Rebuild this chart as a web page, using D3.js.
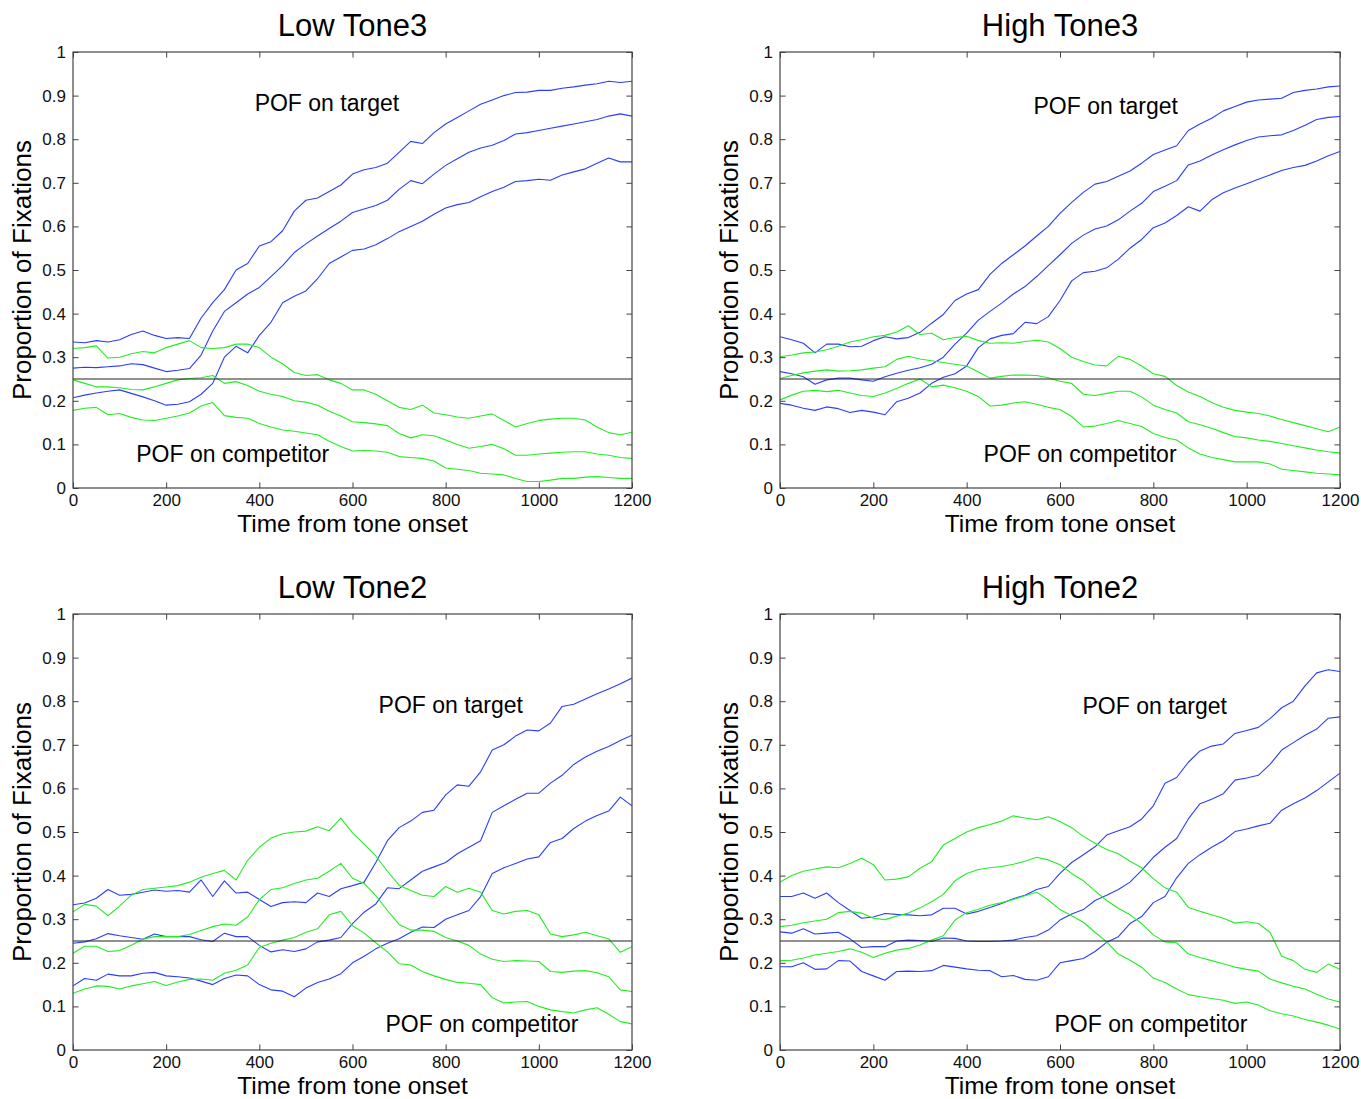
<!DOCTYPE html>
<html>
<head>
<meta charset="utf-8">
<script src="https://cdn.jsdelivr.net/npm/d3@7"></script>
<style>
  html, body { margin: 0; padding: 0; background: #fff; }
  svg { display: block; font-family: "Liberation Sans", Arial, Helvetica, sans-serif; }
</style>
</head>
<body>
<svg id="chart" width="1361" height="1099"></svg>
<script>
// ---- Data: proportion of fixations sampled every 25 ms from tone onset ----
const timeMs = d3.range(0, 1201, 25);
const xTicks = [0, 200, 400, 600, 800, 1000, 1200];
const yTicks = [0, 0.1, 0.2, 0.3, 0.4, 0.5, 0.6, 0.7, 0.8, 0.9, 1];
const panelTitles = ["Low Tone3", "High Tone3", "Low Tone2", "High Tone2"];
const chanceLevel = 0.25;

// Low Tone3
const lowTone3TargetUpper = [0.335,0.333,0.338,0.335,0.340,0.352,0.360,0.350,0.343,0.345,0.343,0.390,0.425,0.455,0.500,0.515,0.555,0.565,0.590,0.635,0.660,0.665,0.680,0.695,0.720,0.730,0.735,0.745,0.770,0.795,0.790,0.815,0.835,0.850,0.865,0.880,0.890,0.900,0.907,0.908,0.912,0.912,0.917,0.920,0.924,0.927,0.933,0.930,0.933];
const lowTone3TargetMean  = [0.275,0.277,0.276,0.278,0.280,0.285,0.283,0.275,0.267,0.270,0.274,0.305,0.360,0.405,0.425,0.445,0.460,0.485,0.510,0.540,0.560,0.578,0.595,0.612,0.632,0.640,0.648,0.660,0.685,0.705,0.698,0.720,0.740,0.755,0.770,0.780,0.786,0.797,0.812,0.815,0.820,0.825,0.830,0.835,0.840,0.845,0.853,0.858,0.853];
const lowTone3TargetLower = [0.207,0.213,0.218,0.222,0.225,0.217,0.209,0.200,0.190,0.192,0.198,0.215,0.240,0.300,0.325,0.310,0.350,0.380,0.425,0.440,0.452,0.480,0.515,0.530,0.545,0.548,0.558,0.572,0.588,0.600,0.612,0.628,0.642,0.650,0.655,0.668,0.680,0.690,0.703,0.705,0.708,0.706,0.718,0.725,0.732,0.745,0.757,0.748,0.748];
const lowTone3CompUpper   = [0.320,0.322,0.326,0.298,0.300,0.308,0.313,0.310,0.322,0.330,0.338,0.322,0.320,0.322,0.330,0.330,0.322,0.300,0.285,0.265,0.258,0.260,0.248,0.240,0.225,0.225,0.215,0.200,0.185,0.180,0.190,0.172,0.168,0.163,0.160,0.165,0.170,0.155,0.140,0.148,0.155,0.158,0.160,0.160,0.156,0.140,0.127,0.122,0.128];
const lowTone3CompMean    = [0.248,0.240,0.232,0.232,0.230,0.226,0.225,0.232,0.240,0.248,0.251,0.253,0.258,0.240,0.244,0.235,0.222,0.215,0.210,0.200,0.197,0.190,0.176,0.165,0.152,0.150,0.147,0.143,0.125,0.115,0.122,0.120,0.110,0.100,0.091,0.095,0.100,0.090,0.075,0.075,0.078,0.080,0.082,0.083,0.083,0.078,0.075,0.070,0.068];
const lowTone3CompLower   = [0.178,0.183,0.185,0.168,0.171,0.162,0.156,0.155,0.160,0.165,0.172,0.188,0.196,0.166,0.162,0.160,0.148,0.140,0.133,0.130,0.126,0.122,0.107,0.095,0.085,0.086,0.085,0.082,0.072,0.070,0.068,0.062,0.046,0.043,0.040,0.034,0.032,0.030,0.022,0.015,0.015,0.018,0.022,0.022,0.025,0.026,0.024,0.022,0.022];

// High Tone3
const highTone3TargetUpper = [0.347,0.340,0.332,0.310,0.330,0.330,0.324,0.325,0.338,0.347,0.342,0.345,0.357,0.378,0.398,0.430,0.445,0.455,0.490,0.515,0.535,0.555,0.578,0.600,0.630,0.655,0.678,0.697,0.703,0.715,0.727,0.745,0.765,0.775,0.785,0.820,0.835,0.848,0.865,0.875,0.885,0.890,0.892,0.894,0.907,0.912,0.915,0.920,0.922];
const highTone3TargetMean  = [0.267,0.262,0.255,0.238,0.248,0.252,0.252,0.248,0.245,0.255,0.263,0.270,0.276,0.284,0.300,0.330,0.355,0.385,0.405,0.424,0.445,0.462,0.485,0.510,0.535,0.561,0.580,0.594,0.601,0.615,0.635,0.653,0.680,0.692,0.705,0.741,0.750,0.764,0.776,0.787,0.797,0.805,0.808,0.810,0.820,0.832,0.845,0.850,0.852];
const highTone3TargetLower = [0.194,0.190,0.183,0.178,0.186,0.182,0.173,0.178,0.174,0.168,0.198,0.206,0.218,0.240,0.254,0.262,0.280,0.322,0.342,0.350,0.354,0.380,0.377,0.393,0.430,0.475,0.494,0.497,0.505,0.525,0.550,0.570,0.597,0.608,0.625,0.645,0.635,0.661,0.677,0.688,0.698,0.708,0.718,0.728,0.735,0.740,0.750,0.762,0.772];
const highTone3CompUpper   = [0.301,0.305,0.310,0.312,0.317,0.325,0.335,0.340,0.347,0.350,0.358,0.372,0.352,0.355,0.340,0.345,0.348,0.338,0.332,0.333,0.332,0.336,0.339,0.335,0.320,0.300,0.290,0.282,0.280,0.302,0.295,0.280,0.262,0.256,0.235,0.220,0.210,0.196,0.185,0.178,0.174,0.171,0.165,0.157,0.150,0.143,0.136,0.129,0.140];
const highTone3CompMean    = [0.251,0.258,0.264,0.268,0.271,0.268,0.269,0.271,0.275,0.278,0.295,0.302,0.296,0.292,0.288,0.284,0.280,0.266,0.252,0.256,0.259,0.259,0.258,0.253,0.245,0.240,0.215,0.212,0.217,0.222,0.222,0.209,0.190,0.180,0.172,0.152,0.145,0.137,0.127,0.118,0.115,0.110,0.107,0.102,0.097,0.092,0.087,0.083,0.080];
const highTone3CompLower   = [0.202,0.213,0.222,0.224,0.221,0.224,0.218,0.212,0.210,0.218,0.228,0.240,0.250,0.232,0.236,0.230,0.222,0.210,0.188,0.190,0.195,0.198,0.192,0.185,0.180,0.164,0.140,0.142,0.148,0.155,0.148,0.141,0.125,0.116,0.110,0.092,0.078,0.070,0.065,0.060,0.060,0.060,0.055,0.043,0.040,0.037,0.034,0.032,0.030];

// Low Tone2
const lowTone2TargetUpper = [0.333,0.337,0.348,0.368,0.355,0.357,0.362,0.367,0.364,0.366,0.362,0.390,0.352,0.388,0.360,0.362,0.345,0.329,0.338,0.340,0.338,0.360,0.352,0.370,0.377,0.385,0.430,0.480,0.510,0.525,0.545,0.550,0.585,0.608,0.605,0.638,0.688,0.700,0.720,0.734,0.732,0.750,0.788,0.793,0.805,0.817,0.828,0.840,0.853];
const lowTone2TargetMean  = [0.245,0.248,0.255,0.267,0.262,0.258,0.254,0.266,0.260,0.260,0.260,0.253,0.249,0.268,0.260,0.260,0.240,0.225,0.230,0.226,0.232,0.248,0.252,0.258,0.290,0.316,0.335,0.372,0.370,0.390,0.410,0.420,0.430,0.450,0.465,0.480,0.545,0.560,0.575,0.589,0.589,0.612,0.630,0.655,0.672,0.685,0.696,0.710,0.722];
const lowTone2TargetLower = [0.147,0.164,0.160,0.174,0.170,0.170,0.176,0.178,0.170,0.168,0.165,0.158,0.150,0.164,0.172,0.170,0.150,0.138,0.135,0.122,0.142,0.155,0.163,0.175,0.200,0.215,0.232,0.245,0.255,0.270,0.282,0.281,0.300,0.310,0.320,0.352,0.405,0.418,0.428,0.438,0.443,0.476,0.485,0.508,0.525,0.538,0.548,0.580,0.560];
const lowTone2CompUpper   = [0.317,0.334,0.330,0.308,0.330,0.355,0.368,0.371,0.374,0.377,0.385,0.396,0.405,0.412,0.390,0.435,0.465,0.486,0.496,0.500,0.502,0.512,0.503,0.532,0.498,0.472,0.445,0.410,0.378,0.366,0.355,0.352,0.375,0.362,0.371,0.362,0.320,0.312,0.318,0.320,0.310,0.266,0.260,0.264,0.270,0.262,0.255,0.224,0.237];
const lowTone2CompMean    = [0.222,0.238,0.238,0.226,0.228,0.240,0.254,0.260,0.260,0.260,0.265,0.274,0.283,0.289,0.286,0.305,0.345,0.368,0.372,0.382,0.390,0.394,0.410,0.428,0.394,0.382,0.354,0.320,0.288,0.275,0.275,0.272,0.258,0.250,0.240,0.220,0.208,0.203,0.205,0.204,0.203,0.180,0.178,0.181,0.182,0.177,0.168,0.138,0.134];
const lowTone2CompLower   = [0.130,0.140,0.147,0.146,0.140,0.147,0.152,0.157,0.148,0.156,0.162,0.163,0.160,0.176,0.183,0.195,0.235,0.245,0.252,0.258,0.270,0.278,0.310,0.318,0.285,0.268,0.246,0.225,0.198,0.195,0.180,0.170,0.162,0.155,0.153,0.150,0.120,0.108,0.110,0.111,0.100,0.092,0.088,0.085,0.092,0.097,0.082,0.065,0.060];

// High Tone2
const highTone2TargetUpper = [0.352,0.352,0.360,0.348,0.360,0.338,0.320,0.302,0.305,0.313,0.311,0.310,0.308,0.310,0.325,0.325,0.312,0.318,0.327,0.336,0.347,0.355,0.368,0.375,0.405,0.430,0.448,0.466,0.493,0.503,0.512,0.530,0.560,0.612,0.625,0.660,0.686,0.697,0.702,0.726,0.733,0.740,0.760,0.785,0.800,0.835,0.865,0.872,0.868];
const highTone2TargetMean  = [0.271,0.268,0.278,0.266,0.268,0.270,0.255,0.235,0.237,0.237,0.250,0.252,0.251,0.249,0.257,0.256,0.250,0.249,0.249,0.250,0.252,0.258,0.262,0.275,0.298,0.312,0.322,0.343,0.355,0.368,0.385,0.412,0.442,0.465,0.485,0.530,0.565,0.575,0.588,0.619,0.624,0.630,0.655,0.688,0.705,0.722,0.736,0.761,0.764];
const highTone2TargetLower = [0.191,0.191,0.200,0.185,0.186,0.205,0.204,0.180,0.170,0.160,0.180,0.181,0.180,0.182,0.194,0.190,0.186,0.183,0.182,0.168,0.171,0.162,0.160,0.168,0.200,0.205,0.210,0.226,0.247,0.260,0.290,0.306,0.338,0.352,0.395,0.428,0.448,0.465,0.480,0.501,0.507,0.514,0.520,0.550,0.565,0.578,0.595,0.615,0.635];
const highTone2CompUpper   = [0.385,0.400,0.410,0.415,0.420,0.418,0.428,0.440,0.425,0.390,0.392,0.397,0.417,0.432,0.470,0.485,0.500,0.510,0.517,0.525,0.537,0.532,0.528,0.535,0.524,0.510,0.490,0.474,0.460,0.450,0.433,0.418,0.393,0.372,0.362,0.327,0.318,0.310,0.302,0.291,0.294,0.290,0.270,0.215,0.205,0.185,0.178,0.197,0.185];
const highTone2CompMean    = [0.283,0.286,0.292,0.296,0.300,0.315,0.318,0.314,0.302,0.299,0.307,0.314,0.326,0.340,0.357,0.388,0.405,0.414,0.418,0.421,0.426,0.433,0.442,0.436,0.425,0.405,0.388,0.365,0.343,0.325,0.310,0.290,0.264,0.248,0.246,0.220,0.212,0.205,0.198,0.190,0.185,0.181,0.163,0.154,0.146,0.140,0.128,0.117,0.110];
const highTone2CompLower   = [0.205,0.206,0.211,0.218,0.222,0.226,0.232,0.224,0.212,0.222,0.229,0.233,0.241,0.252,0.262,0.298,0.315,0.323,0.332,0.338,0.345,0.354,0.362,0.344,0.322,0.308,0.293,0.270,0.248,0.220,0.206,0.190,0.165,0.155,0.140,0.127,0.122,0.118,0.114,0.107,0.110,0.103,0.090,0.083,0.078,0.070,0.064,0.057,0.048];

// ---- Layout ----
const BLUE = "#2b3dff";
const GREEN = "#22ee22";
const FRAME = "#444";

const panels = [
  { title: panelTitles[0], left: 73,  top: 52,  width: 559, height: 436,
    target: [lowTone3TargetUpper, lowTone3TargetMean, lowTone3TargetLower],
    comp:   [lowTone3CompUpper, lowTone3CompMean, lowTone3CompLower],
    targetLabel: [545, 0.883], compLabel: [343, 0.078] },
  { title: panelTitles[1], left: 780, top: 52,  width: 560, height: 436,
    target: [highTone3TargetUpper, highTone3TargetMean, highTone3TargetLower],
    comp:   [highTone3CompUpper, highTone3CompMean, highTone3CompLower],
    targetLabel: [698, 0.876], compLabel: [643, 0.078] },
  { title: panelTitles[2], left: 73,  top: 614, width: 559, height: 436,
    target: [lowTone2TargetUpper, lowTone2TargetMean, lowTone2TargetLower],
    comp:   [lowTone2CompUpper, lowTone2CompMean, lowTone2CompLower],
    targetLabel: [811, 0.791], compLabel: [878, 0.060] },
  { title: panelTitles[3], left: 780, top: 614, width: 560, height: 436,
    target: [highTone2TargetUpper, highTone2TargetMean, highTone2TargetLower],
    comp:   [highTone2CompUpper, highTone2CompMean, highTone2CompLower],
    targetLabel: [803, 0.789], compLabel: [795, 0.060] }
];

const svg = d3.select("#chart");
const yFmt = d => (d === 0 ? "0" : d === 1 ? "1" : d3.format(".1f")(d));

panels.forEach(p => {
  const x = d3.scaleLinear().domain([0, 1200]).range([0, p.width]);
  const y = d3.scaleLinear().domain([0, 1]).range([p.height, 0]);
  const g = svg.append("g").attr("transform", `translate(${p.left},${p.top})`);

  const clipId = "clip-" + p.title.replace(/\s/g, "");
  g.append("clipPath").attr("id", clipId)
    .append("rect").attr("width", p.width).attr("height", p.height);

  const line = d3.line()
    .x((d, i) => x(timeMs[i]))
    .y(d => y(d));

  const plot = g.append("g").attr("clip-path", `url(#${clipId})`);
  p.target.forEach(series => {
    plot.append("path").datum(series)
      .attr("d", line).attr("fill", "none")
      .attr("stroke", BLUE).attr("stroke-width", 1.1)
      .attr("stroke-linejoin", "round");
  });
  p.comp.forEach(series => {
    plot.append("path").datum(series)
      .attr("d", line).attr("fill", "none")
      .attr("stroke", GREEN).attr("stroke-width", 1.1)
      .attr("stroke-linejoin", "round");
  });

  // chance level
  plot.append("line")
    .attr("x1", 0).attr("x2", p.width)
    .attr("y1", y(chanceLevel)).attr("y2", y(chanceLevel))
    .attr("stroke", "#222").attr("stroke-width", 1.1);

  // axes with inward ticks on all four sides
  const tickLen = 5.6;
  const bottom = g.append("g").attr("transform", `translate(0,${p.height})`)
    .call(d3.axisBottom(x).tickValues(xTicks).tickSizeInner(-tickLen).tickSizeOuter(0).tickPadding(6).tickFormat(d3.format("d")));
  const left = g.append("g")
    .call(d3.axisLeft(y).tickValues(yTicks).tickSizeInner(-tickLen).tickSizeOuter(0).tickPadding(7).tickFormat(yFmt));
  const top = g.append("g")
    .call(d3.axisTop(x).tickValues(xTicks).tickSizeInner(-tickLen).tickSizeOuter(0).tickFormat(""));
  const right = g.append("g").attr("transform", `translate(${p.width},0)`)
    .call(d3.axisRight(y).tickValues(yTicks).tickSizeInner(-tickLen).tickSizeOuter(0).tickFormat(""));

  [bottom, left, top, right].forEach(a => {
    a.select(".domain").remove();
    a.selectAll("line").attr("stroke", FRAME).attr("stroke-width", 1);
    a.selectAll("text").attr("fill", "#111").style("font-size", "17px")
      .style("font-family", "'Liberation Sans', Arial, sans-serif");
  });

  g.append("rect").attr("width", p.width).attr("height", p.height)
    .attr("fill", "none").attr("stroke", FRAME).attr("stroke-width", 1.2);

  // titles and axis labels
  g.append("text").attr("x", p.width / 2).attr("y", -16)
    .attr("text-anchor", "middle").style("font-size", "31px").attr("fill", "#000")
    .text(p.title);
  g.append("text").attr("x", p.width / 2).attr("y", p.height + 43.5)
    .attr("text-anchor", "middle").style("font-size", "24.5px").attr("fill", "#000")
    .text("Time from tone onset");
  g.append("text")
    .attr("transform", `translate(-42,${p.height / 2}) rotate(-90)`)
    .attr("text-anchor", "middle").style("font-size", "26px").attr("fill", "#000")
    .text("Proportion of Fixations");

  // in-plot annotations
  g.append("text").attr("x", x(p.targetLabel[0])).attr("y", y(p.targetLabel[1]))
    .attr("dy", "0.35em").attr("text-anchor", "middle")
    .style("font-size", "23px").attr("fill", "#000").text("POF on target");
  g.append("text").attr("x", x(p.compLabel[0])).attr("y", y(p.compLabel[1]))
    .attr("dy", "0.35em").attr("text-anchor", "middle")
    .style("font-size", "23px").attr("fill", "#000").text("POF on competitor");
});
</script>
</body>
</html>
